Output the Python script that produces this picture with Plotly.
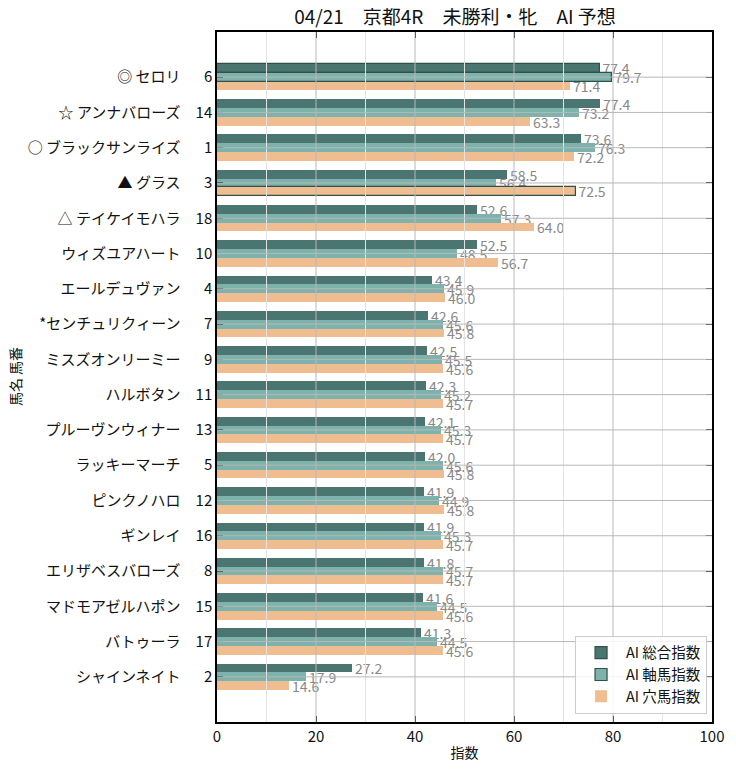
import plotly.graph_objects as go

names = ["◎ セロリ", "☆ アンナバローズ", "○ ブラックサンライズ", "▲ グラス", "△ テイケイモハラ",
         "ウィズユアハート", "エールデュヴァン", "*センチュリクィーン", "ミスズオンリーミー", "ハルボタン",
         "プルーヴンウィナー", "ラッキーマーチ", "ピンクノハロ", "ギンレイ", "エリザベスバローズ",
         "マドモアゼルハポン", "バトゥーラ", "シャインネイト"]
numbers = [6, 14, 1, 3, 18, 10, 4, 7, 9, 11, 13, 5, 12, 16, 8, 15, 17, 2]
sogo = [77.4, 77.4, 73.6, 58.5, 52.6, 52.5, 43.4, 42.6, 42.5, 42.3, 42.1, 42.0, 41.9, 41.9, 41.8, 41.6, 41.3, 27.2]
jiku = [79.7, 73.2, 76.3, 56.4, 57.3, 48.5, 45.9, 45.6, 45.5, 45.2, 45.3, 45.6, 44.9, 45.3, 45.7, 44.5, 44.5, 17.9]
ana = [71.4, 63.3, 72.2, 72.5, 64.0, 56.7, 46.0, 45.8, 45.6, 45.7, 45.7, 45.8, 45.8, 45.7, 45.7, 45.6, 45.6, 14.6]
series_names = ["AI 総合指数", "AI 軸馬指数", "AI 穴馬指数"]
colors = ["#4b7570", "#7db3ac", "#f0bd91"]
edge = "#2f504b"
FONT = "Noto Sans CJK JP"

pos = list(range(len(names)))
ticktext = [f"{n}　{str(k).rjust(2, '\u2007')}" for n, k in zip(names, numbers)]

fig = go.Figure()
offsets = [-0.375, -0.125, 0.125]
for vals, nm, col, off in zip([sogo, jiku, ana], series_names, colors, offsets):
    imax = vals.index(max(vals))
    lw = [1.2 if i == imax else 0 for i in range(len(vals))]
    fig.add_trace(go.Bar(
        x=vals, y=pos, orientation="h", name=nm,
        marker=dict(color=col, line=dict(color=edge, width=lw)),
        width=0.25, offset=off,
        text=[f"{v:.1f}" for v in vals], textposition="outside",
        constraintext="none", cliponaxis=False,
        textfont=dict(color="#888888", size=14, family=FONT),
    ))

# grid lines above bars
major = [20, 40, 60, 80]
minor = [10, 30, 50, 70, 90]
for v in minor:
    fig.add_shape(type="line", xref="x", yref="paper", x0=v, x1=v, y0=0, y1=1,
                  line=dict(color="#e3e3e3", width=1), layer="above")
for v in major:
    fig.add_shape(type="line", xref="x", yref="paper", x0=v, x1=v, y0=0, y1=1,
                  line=dict(color="#b8b8b8", width=1), layer="above")
for p in pos:
    fig.add_shape(type="line", xref="paper", yref="y", x0=0, x1=1, y0=p, y1=p,
                  line=dict(color="#b8b8b8", width=1), layer="above")

fig.update_layout(
    width=728, height=754,
    margin=dict(l=209, r=24, t=24, b=40, autoexpand=False),
    paper_bgcolor="white", plot_bgcolor="white",
    font=dict(family=FONT, size=15, color="#111111"),
    title=dict(text="04/21　京都4R　未勝利・牝　AI 予想", x=0.614, xanchor="center", xref="container",
               y=0.988, yanchor="middle", font=dict(size=19, family=FONT, color="#111111")),
    showlegend=True,
    legend=dict(x=0.99, y=0.012, xanchor="right", yanchor="bottom",
                bgcolor="rgba(255,255,255,0.85)", bordercolor="#cccccc", borderwidth=1,
                font=dict(size=14.5, family=FONT), traceorder="normal", itemwidth=40),
    bargap=0,
)
fig.update_xaxes(range=[0, 100], tickvals=[0, 20, 40, 60, 80, 100], showgrid=False,
                 ticks="inside", ticklen=6, tickcolor="black", automargin=False,
                 minor=dict(ticks="inside", ticklen=3, tickvals=minor, tickcolor="black", showgrid=False),
                 showline=True, linecolor="black", linewidth=1.5, mirror="ticks",
                 tickfont=dict(size=15, family=FONT),
                 title=dict(text="指数", font=dict(size=14, family=FONT), standoff=4),
                 zeroline=False)
fig.update_yaxes(range=[18.28, -1.28], tickvals=pos, ticktext=ticktext, showgrid=False,
                 ticks="inside", ticklen=6, tickcolor="black", automargin=False,
                 showline=True, linecolor="black", linewidth=1.5, mirror="ticks",
                 tickfont=dict(size=15, family=FONT), zeroline=False)
fig.add_annotation(text="馬名 馬番", xref="paper", yref="paper", x=-0.408, y=0.5,
                   xanchor="center", yanchor="middle",
                   textangle=-90, showarrow=False, font=dict(size=14, family=FONT))

fig.write_html("out.html")
